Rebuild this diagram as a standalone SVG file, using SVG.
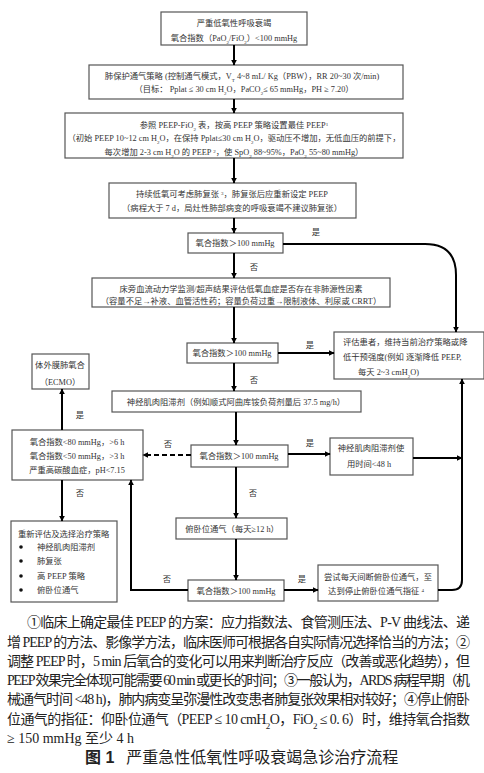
<svg xmlns="http://www.w3.org/2000/svg" width="484" height="773" viewBox="0 0 484 773">
<defs>
<marker id="ah" viewBox="0 0 10 10" refX="9" refY="5" markerWidth="3" markerHeight="3" orient="auto" markerUnits="strokeWidth">
<path d="M0,0 L10,5 L0,10 z" fill="#000"/>
</marker>
<style>
.box{fill:#fff;stroke:#555;stroke-width:1.2}
.t{font-family:"Liberation Serif","Noto Sans CJK SC",serif;font-size:8.3px;fill:#333;text-anchor:middle}
.tl{font-family:"Liberation Serif","Noto Sans CJK SC",serif;font-size:8.3px;fill:#333}
.c{fill:none;stroke:#000;stroke-width:2;marker-end:url(#ah)}
.cn{fill:none;stroke:#000;stroke-width:2}
.d{stroke-dasharray:5,3}
.p{font-family:"Liberation Serif","Noto Sans CJK SC",serif;font-size:14px;fill:#222}
.cap{font-family:"Liberation Sans","Noto Sans CJK SC",sans-serif;font-size:16px;fill:#222}
</style>
</defs>
<rect width="484" height="773" fill="#fff"/>

<g id="n1"><rect class="box" x="161" y="12" width="146" height="33"/>
<text class="t" x="234" y="26">严重低氧性呼吸衰竭</text>
<text class="t" x="234" y="41">氧合指数（PaO<tspan baseline-shift="sub" font-size="5">2</tspan>/FiO<tspan baseline-shift="sub" font-size="5">2</tspan>）&lt;100 mmHg</text></g>

<g id="n2"><rect class="box" x="89" y="65" width="314" height="34"/>
<text class="t" x="242" y="79">肺保护通气策略 (控制通气模式，V<tspan baseline-shift="sub" font-size="5">T</tspan> 4~8 mL/ Kg（PBW），RR 20~30 次/min)</text>
<text class="t" x="244" y="92">（目标：  Pplat ≤ 30 cm H<tspan baseline-shift="sub" font-size="5">2</tspan>O，PaCO<tspan baseline-shift="sub" font-size="5">2</tspan>≤ 65 mmHg，PH ≥ 7.20）</text></g>

<g id="n3"><rect class="box" x="65" y="113" width="338" height="45"/>
<text class="t" x="234" y="128">参照 PEEP-FiO<tspan baseline-shift="sub" font-size="5">2</tspan> 表，按高 PEEP 策略设置最佳 PEEP<tspan baseline-shift="super" font-size="5">1</tspan></text>
<text class="t" x="234" y="141">（初始 PEEP 10~12 cm H<tspan baseline-shift="sub" font-size="5">2</tspan>O，在保持 Pplat≤30 cm H<tspan baseline-shift="sub" font-size="5">2</tspan>O，驱动压不增加，无低血压的前提下，</text>
<text class="t" x="234" y="155">每次增加 2-3 cm H<tspan baseline-shift="sub" font-size="5">2</tspan>O 的 PEEP <tspan baseline-shift="super" font-size="5">2</tspan>，使 SpO<tspan baseline-shift="sub" font-size="5">2</tspan> 88~95%，PaO<tspan baseline-shift="sub" font-size="5">2</tspan> 55~80 mmHg）</text></g>

<g id="n4"><rect class="box" x="109" y="183" width="247" height="35"/>
<text class="t" x="232" y="197">持续低氧可考虑肺复张 <tspan baseline-shift="super" font-size="5">3</tspan>，肺复张后应重新设定 PEEP</text>
<text class="t" x="232" y="211">（病程大于 7 d，局灶性肺部病变的呼吸衰竭不建议肺复张）</text></g>

<g id="n5"><rect class="box" x="188" y="233" width="95" height="20"/>
<text class="t" x="235" y="246">氧合指数＞100 mmHg</text></g>

<g id="n6"><rect class="box" x="92" y="278" width="298" height="29"/>
<text class="t" x="241" y="292">床旁血流动力学监测/超声结果评估低氧血症是否存在非肺源性因素</text>
<text class="t" x="241" y="304">（容量不足→补液、血管活性药；容量负荷过重→限制液体、利尿或 CRRT）</text></g>

<g id="n7"><rect class="box" x="187" y="343" width="91" height="20"/>
<text class="t" x="232" y="356">氧合指数＞100 mmHg</text></g>

<g id="n8"><rect class="box" x="334" y="332" width="150" height="47"/>
<text class="tl" x="343" y="345">评估患者，维持当前治疗策略或降</text>
<text class="tl" x="343" y="360">低干预强度(例如  逐渐降低 PEEP,</text>
<text class="tl" x="358" y="375">每天 2~3 cmH<tspan baseline-shift="sub" font-size="5">2</tspan>O)</text></g>

<g id="n9"><rect class="box" x="32" y="354" width="57" height="35"/>
<text class="t" x="60" y="368">体外膜肺氧合</text>
<text class="t" x="60" y="385">（ECMO）</text></g>

<g id="n10"><rect class="box" x="112" y="391" width="249" height="21"/>
<text class="t" x="236" y="405">神经肌肉阻滞剂（例如顺式阿曲库铵负荷剂量后 37.5 mg/h）</text></g>

<g id="n11"><rect class="box" x="12" y="430" width="131" height="50"/>
<text class="t" x="77" y="445">氧合指数&lt;80 mmHg，&gt;6 h</text>
<text class="t" x="77" y="459">氧合指数&lt;50 mmHg，&gt;3 h</text>
<text class="t" x="77" y="473">严重高碳酸血症，pH&lt;7.15</text></g>

<g id="n12"><rect class="box" x="191" y="445" width="97" height="22"/>
<text class="t" x="239" y="459">氧合指数＞100 mmHg</text></g>

<g id="n13"><rect class="box" x="330" y="438" width="83" height="37"/>
<text class="t" x="371" y="451">神经肌肉阻滞剂使</text>
<text class="t" x="369" y="467">用时间&lt;48 h</text></g>

<g id="n14"><rect class="box" x="11" y="521" width="106" height="81"/>
<text class="tl" x="18" y="537">重新评估及选择治疗策略</text>
<circle cx="21" cy="547" r="1.8" fill="#111"/><text class="tl" x="37" y="550">神经肌肉阻滞剂</text>
<circle cx="21" cy="561" r="1.8" fill="#111"/><text class="tl" x="37" y="564">肺复张</text>
<circle cx="21" cy="576" r="1.8" fill="#111"/><text class="tl" x="37" y="579">高 PEEP 策略</text>
<circle cx="21" cy="590" r="1.8" fill="#111"/><text class="tl" x="37" y="593">俯卧位通气</text></g>

<g id="n15"><rect class="box" x="176" y="518" width="111" height="21"/>
<text class="t" x="232" y="532">俯卧位通气（每天≥12 h）</text></g>

<g id="n16"><rect class="box" x="188" y="580" width="96" height="21"/>
<text class="t" x="236" y="594">氧合指数＞100 mmHg</text></g>

<g id="n17"><rect class="box" x="318" y="565" width="120" height="36"/>
<text class="t" x="378" y="580">尝试每天间断俯卧位通气，至</text>
<text class="t" x="376" y="594">达到停止俯卧位通气指征 <tspan baseline-shift="super" font-size="5">4</tspan></text></g>

<g id="connectors">
<path class="c" d="M234,45 V65"/>
<path class="c" d="M234,99 V113"/>
<path class="c" d="M234,158 V183"/>
<path class="c" d="M234,218 V233"/>
<path class="c" d="M234,253 V278"/>
<path class="c" d="M283,244 H425 Q456,244 456,275 V332"/>
<path class="c" d="M234,307 V343"/>
<path class="c" d="M278,353 H334"/>
<path class="c" d="M234,363 V391"/>
<path class="c" d="M236,412 V445"/>
<path class="c d" d="M191,455 H143"/>
<path class="c" d="M288,454 H330"/>
<path class="c" d="M413,458 H462"/>
<path class="c" d="M236,467 V518"/>
<path class="c" d="M236,539 V580"/>
<path class="c" d="M188,590 H131 V480"/>
<path class="c" d="M284,590 H318"/>
<path class="c" d="M438,590 H452 Q462,590 462,580 V379"/>
<path class="c" d="M62,480 V521"/>
<path class="c" d="M62,430 V389"/>
<text class="t" x="316" y="235">是</text>
<text class="t" x="254" y="270">否</text>
<text class="t" x="310" y="348">是</text>
<text class="t" x="254" y="383">否</text>
<text class="t" x="80" y="418">是</text>
<text class="t" x="168" y="447">否</text>
<text class="t" x="310" y="446">是</text>
<text class="t" x="80" y="496">否</text>
<text class="t" x="253" y="496">否</text>
<text class="t" x="167" y="582">否</text>
<text class="t" x="302" y="582">是</text>
</g>

<g id="caption">
<text class="p" x="27" y="627" textLength="443" lengthAdjust="spacing">①临床上确定最佳 PEEP 的方案：应力指数法、食管测压法、P-V 曲线法、递</text>
<text class="p" x="7" y="647" textLength="463" lengthAdjust="spacing">增 PEEP 的方法、影像学方法，临床医师可根据各自实际情况选择恰当的方法；②</text>
<text class="p" x="7" y="666" textLength="463" lengthAdjust="spacing">调整 PEEP 时，5 min 后氧合的变化可以用来判断治疗反应（改善或恶化趋势），但</text>
<text class="p" x="7" y="685" textLength="463" lengthAdjust="spacing">PEEP 效果完全体现可能需要 60 min 或更长的时间；③一般认为，ARDS 病程早期（机</text>
<text class="p" x="7" y="704" textLength="463" lengthAdjust="spacing">械通气时间 &lt;48 h)，肺内病变呈弥漫性改变患者肺复张效果相对较好；④停止俯卧</text>
<text class="p" x="7" y="724" textLength="463" lengthAdjust="spacing">位通气的指征：仰卧位通气（PEEP ≤ 10 cmH<tspan baseline-shift="sub" font-size="9">2</tspan>O，FiO<tspan baseline-shift="sub" font-size="9">2</tspan> ≤ 0. 6）时，维持氧合指数</text>
<text class="p" x="7" y="743">≥ 150 mmHg 至少 4 h</text>
<text class="cap" x="85" y="763"><tspan font-weight="bold">图 1</tspan><tspan dx="12">严重急性低氧性呼吸衰竭急诊治疗流程</tspan></text>
</g>
</svg>
